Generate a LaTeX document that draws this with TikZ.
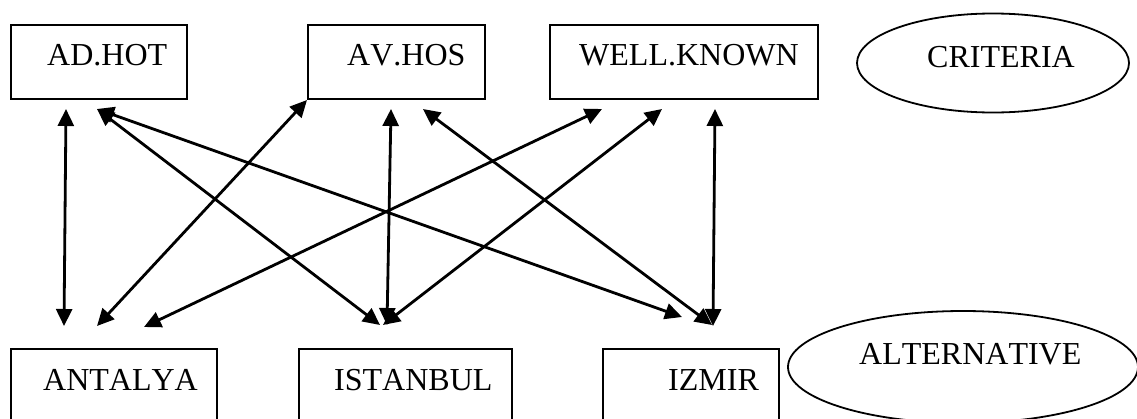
\documentclass[tikz,border=0pt]{standalone}
\usepackage{fontspec}
\setmainfont{Liberation Serif}[Kerning=Off]
\usetikzlibrary{arrows.meta,shapes.geometric}
\begin{document}
\begin{tikzpicture}[x=1pt,y=-1pt,
  box/.style={draw,line width=2.4pt,rectangle,inner sep=0pt,anchor=north west},
  oval/.style={draw,line width=1.8pt,ellipse,inner sep=0pt},
  lbl/.style={inner sep=0pt,anchor=base west,font=\fontsize{32}{38}\selectfont},
  link/.style={line width=2.8pt,{Triangle[length=17pt,width=16pt]}-{Triangle[length=17pt,width=16pt]}}]
\useasboundingbox (0,0) rectangle (1137,418);
\clip (0,0) rectangle (1137,418);

% criteria boxes
\node[box,minimum width=176pt,minimum height=74pt] (adhot) at (10,24) {};
\node[box,minimum width=177pt,minimum height=74pt] (avhos) at (307,24) {};
\node[box,minimum width=268pt,minimum height=74pt] (well) at (549,24) {};
\node[lbl] (tadhot) at (47,65) {AD.HOT};
\node[lbl] (tavhos) at (347,65) {AV.HOS};
\node[lbl] (twell) at (579,65) {WELL.KNOWN};
\node[oval,minimum width=272pt,minimum height=99pt] (crit) at (993,63) {};
\node[lbl] (tcrit) at (927,67) {CRITERIA};

% alternative boxes
\node[box,minimum width=206pt,minimum height=90pt] (antalya) at (10,348) {};
\node[box,minimum width=213pt,minimum height=90pt] (istanbul) at (298,348) {};
\node[box,minimum width=176pt,minimum height=90pt] (izmir) at (602,348) {};
\node[lbl] (tantalya) at (43,390) {ANTALYA};
\node[lbl] (tistanbul) at (334,390) {ISTANBUL};
\node[lbl] (tizmir) at (668,390) {IZMIR};
\node[oval,minimum width=350pt,minimum height=112pt] (alt) at (963,367) {};
\node[lbl] (talt) at (859,364) {ALTERNATIVE};

% arrow ends under the criteria
\coordinate (ad1) at (66,109);
\coordinate (ad2) at (97,109);
\coordinate (av1) at (307,100);
\coordinate (av2) at (391,109);
\coordinate (av3) at (423,109);
\coordinate (wk1) at (602,109);
\coordinate (wk2) at (662,109);
\coordinate (wk3) at (715,109);
% arrow ends above the alternatives
\coordinate (an1) at (64,326);
\coordinate (an2) at (97,326);
\coordinate (an3) at (144,327);
\coordinate (is1) at (380,325);
\coordinate (is2) at (387,325);
\coordinate (is3) at (383,325);
\coordinate (iz1) at (682,317);
\coordinate (iz2) at (712,325);
\coordinate (iz3) at (713,326);

\draw[link] (ad1) -- (an1);
\draw[link] (ad2) -- (is1);
\draw[link] (ad2) -- (iz1);
\draw[link] (av1) -- (an2);
\draw[link] (av2) -- (is2);
\draw[link] (av3) -- (iz2);
\draw[link] (wk1) -- (an3);
\draw[link] (wk2) -- (is3);
\draw[link] (wk3) -- (iz3);
\end{tikzpicture}
\end{document}
